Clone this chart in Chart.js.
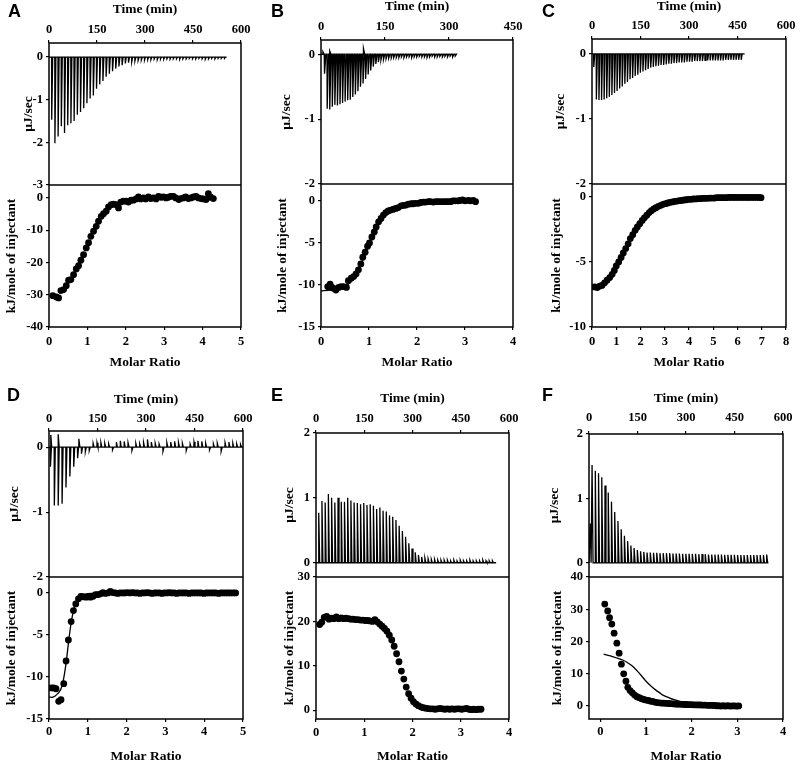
<!DOCTYPE html>
<html>
<head>
<meta charset="utf-8">
<script src="https://cdn.jsdelivr.net/npm/chart.js@4/dist/chart.umd.min.js"></script>
<style>
  body { margin: 0; background: #fff; }
  #fig { position: relative; width: 800px; height: 765px; overflow: hidden; background: #fff; }
  #fig canvas { position: absolute; }
  .tag { position: absolute; font: bold 18px "Liberation Sans", Arial, sans-serif; line-height: 18px; color: #000; }
</style>
</head>
<body>
<div id="fig"></div>
<script>
// ---- raw thermograms: injection time (min) and peak height (µJ/sec) ----
var A_TIME = [8,18,28,38,48,58,68,78,88,98,108,118,128,138,148,158,168,178,188,198,208,218,228,238,248,258,268,278,288,298,308,318,328,338,348,358,368,378,388,398,408,418,428,438,448,458,468,478,488,498,508,518,528,538,548];
var A_PEAK = [-1.47,-2.02,-1.86,-1.62,-1.78,-1.6,-1.55,-1.5,-1.35,-1.29,-1.2,-1.08,-0.97,-0.9,-0.74,-0.64,-0.56,-0.46,-0.39,-0.33,-0.27,-0.22,-0.19,-0.15,-0.13,-0.11,-0.09,-0.08,-0.07,-0.07,-0.06,-0.06,-0.05,-0.06,-0.05,-0.05,-0.04,-0.05,-0.04,-0.04,-0.05,-0.04,-0.04,-0.03,-0.04,-0.04,-0.03,-0.04,-0.05,-0.04,-0.03,-0.04,-0.03,-0.03,-0.03];

var B_TIME = [8,14,20,26,32,38,44,50,56,62,68,74,80,86,92,98,104,110,116,122,128,134,140,146,152,158,164,170,176,182,188,194,200,206,212,218,224,230,236,242,248,254,260,266,272,278,284,290,296,302,308,314];
var B_PEAK = [-0.3,-0.84,-0.85,-0.81,-0.78,-0.79,-0.77,-0.75,-0.73,-0.71,-0.7,-0.66,-0.62,-0.57,-0.5,-0.45,-0.38,-0.31,-0.25,-0.19,-0.15,-0.12,-0.09,-0.08,-0.07,-0.06,-0.06,-0.05,-0.05,-0.05,-0.04,-0.05,-0.04,-0.04,-0.05,-0.04,-0.04,-0.03,-0.04,-0.04,-0.05,-0.04,-0.03,-0.04,-0.04,-0.03,-0.04,-0.03,-0.04,-0.03,-0.04,-0.03];
var B_UP_TIME = [4,20,99];
var B_UP_PEAK = [0.04,0.05,0.09];

var C_TIME = [5,13,21,29,37,45,53,61,69,77,85,93,101,109,117,125,133,141,149,157,165,173,181,189,197,205,213,221,229,237,245,253,261,269,277,285,293,301,309,317,325,333,341,349,357,365,373,381,389,397,405,413,421,429,437,445,453,461];
var C_PEAK = [-0.2,-0.7,-0.71,-0.71,-0.7,-0.68,-0.66,-0.63,-0.6,-0.57,-0.53,-0.5,-0.46,-0.43,-0.39,-0.37,-0.34,-0.32,-0.29,-0.27,-0.25,-0.23,-0.21,-0.2,-0.19,-0.18,-0.17,-0.17,-0.16,-0.15,-0.15,-0.14,-0.14,-0.13,-0.13,-0.13,-0.12,-0.12,-0.12,-0.11,-0.11,-0.11,-0.11,-0.1,-0.1,-0.1,-0.1,-0.1,-0.1,-0.1,-0.1,-0.09,-0.09,-0.09,-0.09,-0.09,-0.09,-0.09];

var D_TIME = [4,16,28,40,52,64,76,88,100,112,124,136,148,160,172,184,196,208,220,232,244,256,268,280,292,304,316,328,340,352,364,376,388,400,412,424,436,448,460,472,484,496,508,520,532,544,556,568,580,592];
var D_PEAK = [-0.3,-0.9,-0.9,-0.87,-0.62,-0.45,-0.3,-0.17,-0.1,-0.07,-0.05,0.06,0.07,0.07,0.06,0.05,-0.04,0.08,0.1,0.09,0.07,-0.05,0.06,0.05,0.07,0.12,0.08,0.06,0.05,-0.06,0.07,0.08,0.09,0.07,0.06,-0.05,0.05,0.08,0.1,0.09,0.06,-0.04,0.05,0.06,-0.06,0.07,0.08,0.06,0.05,0.04];
var D_UP_TIME = [5,28,92];
var D_UP_PEAK = [0.19,0.2,0.13];

var E_TIME = [8,18,28,38,48,58,68,78,88,98,108,118,128,138,148,158,168,178,188,198,208,218,228,238,248,258,268,278,288,298,308,318,328,338,348,358,368,378,388,398,408,418,428,438,448,458,468,478,488,498,508,518,528,538,548];
var E_PEAK = [0.77,0.95,0.93,1.06,1.0,0.93,1.0,0.94,0.94,1.0,0.96,0.93,0.92,0.9,0.92,0.89,0.9,0.88,0.83,0.85,0.8,0.79,0.73,0.71,0.66,0.57,0.49,0.4,0.3,0.22,0.16,0.12,0.09,0.07,0.06,0.05,0.05,0.04,0.04,0.04,0.04,0.03,0.04,0.03,0.04,0.03,0.03,0.04,0.03,0.03,0.03,0.04,0.03,0.03,0.03];

var F_TIME = [3,9,19,29,39,49,59,69,79,89,99,109,119,129,139,149,159,169,179,189,199,209,219,229,239,249,259,269,279,289,299,309,319,329,339,349,359,369,379,389,399,409,419,429,439,449,459,469,479,489,499,509,519,529,539,549];
var F_PEAK = [0.61,1.52,1.43,1.39,1.33,1.2,1.09,0.95,0.79,0.65,0.52,0.42,0.34,0.27,0.23,0.2,0.18,0.17,0.16,0.16,0.155,0.155,0.15,0.15,0.15,0.15,0.145,0.145,0.145,0.14,0.14,0.14,0.14,0.14,0.135,0.135,0.135,0.13,0.13,0.13,0.13,0.13,0.125,0.125,0.125,0.125,0.12,0.12,0.12,0.12,0.12,0.12,0.12,0.12,0.12,0.13];

// ---- integrated heats: molar ratio and kJ/mole of injectant ----
var A_MR = [0.10,0.19,0.25,0.31,0.38,0.45,0.51,0.57,0.64,0.71,0.77,0.83,0.90,0.97,1.03,1.09,1.16,1.23,1.29,1.36,1.42,1.49,1.55,1.62,1.68,1.75,1.81,1.87,1.94,2.01,2.07,2.14,2.20,2.27,2.33,2.39,2.46,2.52,2.59,2.65,2.72,2.79,2.85,2.92,2.98,3.05,3.11,3.17,3.24,3.30,3.38,3.43,3.50,3.56,3.63,3.70,3.76,3.83,3.89,3.96,4.02,4.09,4.15,4.21,4.28];
var A_HEAT = [-30.3,-30.7,-31.0,-28.7,-28.4,-27.2,-25.5,-25.3,-23.8,-22.0,-21.0,-19.3,-17.6,-15.5,-13.9,-11.9,-10.3,-8.8,-7.2,-5.7,-4.9,-4.1,-2.8,-2.1,-1.9,-2.1,-3.1,-1.3,-1.0,-1.0,-1.3,-0.7,-0.7,-0.3,0.3,-0.3,0.0,-0.3,0.3,-0.2,0.0,-0.3,0.5,0.2,0.3,0.0,0.2,0.5,0.5,0.0,-0.5,-0.2,0.0,0.3,-0.2,0.0,0.3,0.5,0.0,-0.2,-0.3,-0.5,1.3,0.2,-0.2];

var B_MR = [0.14,0.19,0.23,0.26,0.31,0.37,0.42,0.47,0.53,0.57,0.63,0.68,0.73,0.78,0.83,0.87,0.92,0.97,1.01,1.06,1.11,1.15,1.20,1.25,1.30,1.35,1.40,1.45,1.51,1.56,1.61,1.67,1.72,1.77,1.82,1.88,1.92,1.97,2.03,2.08,2.13,2.18,2.24,2.28,2.34,2.39,2.44,2.49,2.55,2.60,2.65,2.70,2.75,2.80,2.86,2.90,2.95,3.00,3.07,3.11,3.17,3.22];
var B_HEAT = [-10.2,-9.9,-10.3,-10.4,-10.6,-10.3,-10.2,-10.2,-10.3,-9.5,-9.2,-9.0,-8.7,-8.2,-7.5,-6.7,-6.1,-5.4,-5.0,-4.3,-3.7,-3.1,-2.5,-2.1,-1.7,-1.4,-1.2,-1.1,-1.0,-0.9,-0.8,-0.6,-0.55,-0.5,-0.4,-0.35,-0.35,-0.3,-0.3,-0.2,-0.15,-0.15,-0.1,-0.1,-0.15,-0.1,-0.1,-0.1,-0.1,-0.1,-0.1,-0.1,0,0,0,0.05,0.1,0,0.05,0,0.05,-0.1];
var B_FIT_MR = [0,0.2,0.4,0.55,0.7,0.85,1.0,1.15,1.3,1.45,1.6,1.8,2.0,2.4,2.8,3.2];
var B_FIT = [-10.7,-10.6,-10.4,-10.0,-9.0,-7.3,-5.2,-3.2,-1.8,-1.1,-0.75,-0.45,-0.3,-0.15,-0.05,0];

var C_MR = [0.11,0.22,0.32,0.41,0.52,0.62,0.73,0.83,0.92,1.00,1.10,1.20,1.29,1.39,1.49,1.58,1.68,1.78,1.87,1.97,2.07,2.16,2.26,2.36,2.45,2.55,2.64,2.74,2.84,2.93,3.03,3.13,3.22,3.32,3.42,3.51,3.61,3.70,3.80,3.90,3.99,4.09,4.18,4.28,4.38,4.47,4.57,4.66,4.76,4.86,4.95,5.05,5.14,5.24,5.34,5.43,5.53,5.63,5.72,5.82,5.91,6.01,6.11,6.20,6.30,6.40,6.49,6.59,6.68,6.78,6.88,6.97];
var C_HEAT = [-6.92,-6.97,-6.85,-6.8,-6.6,-6.4,-6.2,-5.95,-5.65,-5.3,-5.0,-4.65,-4.3,-3.97,-3.6,-3.2,-2.9,-2.56,-2.3,-2.05,-1.8,-1.6,-1.4,-1.2,-1.05,-0.92,-0.82,-0.72,-0.64,-0.56,-0.51,-0.46,-0.41,-0.38,-0.33,-0.31,-0.28,-0.26,-0.23,-0.21,-0.18,-0.18,-0.15,-0.15,-0.13,-0.13,-0.1,-0.1,-0.1,-0.08,-0.08,-0.08,-0.05,-0.05,-0.05,-0.05,-0.05,-0.03,-0.03,-0.03,-0.03,-0.03,-0.03,-0.03,-0.03,-0.03,-0.03,-0.03,-0.03,-0.03,-0.03,-0.05];

var D_MR = [0.06,0.12,0.18,0.25,0.31,0.38,0.44,0.50,0.57,0.63,0.69,0.76,0.82,0.88,0.95,1.01,1.07,1.14,1.20,1.26,1.33,1.39,1.45,1.52,1.58,1.64,1.71,1.77,1.83,1.90,1.96,2.02,2.09,2.15,2.21,2.28,2.34,2.40,2.47,2.53,2.59,2.66,2.72,2.78,2.85,2.91,2.97,3.04,3.10,3.16,3.23,3.29,3.35,3.42,3.48,3.54,3.61,3.67,3.73,3.80,3.86,3.92,3.99,4.05,4.11,4.18,4.24,4.30,4.37,4.43,4.49,4.56,4.62,4.68,4.75,4.81];
var D_HEAT = [-11.3,-11.3,-11.4,-12.9,-12.7,-10.8,-8.1,-5.6,-3.4,-2.1,-1.3,-0.7,-0.4,-0.45,-0.5,-0.45,-0.5,-0.4,-0.2,-0.2,-0.1,0.05,-0.05,0.0,0.2,0.05,0.0,-0.05,0.0,0.0,0.0,0.05,0.0,0.05,0.0,0.0,-0.05,0.0,0.0,0.05,0.0,-0.05,0.0,0.0,0.0,-0.05,0.0,0.0,0.05,0.0,0.0,-0.05,0.0,0.0,0.0,0.0,-0.05,0.0,0.0,0.0,0.0,0.0,-0.05,0.0,0.0,0.0,0.0,0.0,-0.05,0.0,0.0,0.0,0.0,0.0,0.0,0.0];
var D_FIT_MR = [0,0.1,0.2,0.3,0.35,0.4,0.45,0.5,0.55,0.6,0.65,0.7,0.8,0.9,1.0,1.2,2,3,4,4.8];
var D_FIT = [-12.4,-12.4,-12.1,-11.5,-10.8,-9.6,-8.0,-6.0,-4.2,-2.8,-1.8,-1.1,-0.45,-0.2,-0.08,-0.02,0,0,0,0];

var E_MR = [0.075,0.12,0.17,0.22,0.27,0.32,0.37,0.42,0.47,0.52,0.57,0.62,0.67,0.72,0.77,0.82,0.87,0.92,0.97,1.02,1.07,1.12,1.17,1.22,1.27,1.32,1.37,1.42,1.47,1.52,1.57,1.62,1.67,1.72,1.77,1.82,1.87,1.92,1.97,2.02,2.07,2.12,2.17,2.22,2.27,2.32,2.37,2.42,2.47,2.52,2.57,2.62,2.67,2.72,2.77,2.82,2.87,2.92,2.97,3.02,3.07,3.12,3.17,3.22,3.27,3.32,3.37,3.42];
var E_HEAT = [19.3,19.8,20.9,21.1,20.5,20.7,20.6,21.0,20.6,20.8,20.6,20.7,20.6,20.5,20.5,20.4,20.4,20.3,20.3,20.2,20.2,20.1,20.0,20.4,19.9,19.4,18.9,18.4,17.8,16.9,15.8,14.4,12.7,10.9,8.8,7.0,5.2,3.7,2.7,1.9,1.4,1.0,0.75,0.55,0.45,0.35,0.3,0.3,0.2,0.3,0.4,0.3,0.2,0.3,0.2,0.3,0.2,0.3,0.3,0.2,0.3,0.4,0.2,0.1,0.2,0.1,0.2,0.2];

var F_MR = [0.095,0.16,0.20,0.25,0.30,0.36,0.41,0.46,0.51,0.56,0.60,0.65,0.70,0.75,0.80,0.85,0.90,0.95,1.00,1.05,1.09,1.14,1.19,1.24,1.29,1.34,1.39,1.44,1.49,1.54,1.59,1.64,1.69,1.74,1.79,1.84,1.89,1.94,1.99,2.04,2.09,2.14,2.19,2.24,2.29,2.34,2.39,2.44,2.49,2.54,2.59,2.64,2.69,2.74,2.79,2.84,2.89,2.94,2.99,3.03];
var F_HEAT = [31.6,29.5,27.4,25.4,22.6,19.5,16.4,13.0,10.0,7.7,5.8,4.8,4.1,3.4,2.9,2.6,2.3,2.05,1.85,1.75,1.55,1.45,1.25,1.1,1.0,0.95,0.9,0.85,0.8,0.75,0.7,0.65,0.6,0.6,0.55,0.5,0.5,0.45,0.45,0.4,0.4,0.35,0.35,0.3,0.3,0.25,0.25,0.2,0.2,0.1,0.1,0.0,0.1,0.0,0.1,0.0,0.05,0.05,0.0,0.05];
var F_FIT_MR = [0.07,0.2,0.36,0.5,0.58,0.7,0.8,0.9,1.0,1.1,1.2,1.3,1.38,1.5,1.6,1.7,1.78,2.0,2.4,3.0];
var F_FIT = [16.1,15.6,14.9,14.2,13.6,12.4,11.0,9.4,7.7,6.3,5.1,4.1,3.3,2.6,2.05,1.65,1.35,0.9,0.4,0.1];

// ---- tick labels ----
var TIME_TICKS = [0,150,300,450,600];
var TIME_TICKS_B = [0,150,300,450];
var RATE_TICKS_A = [0,-1,-2,-3];
var RATE_TICKS_NEG = [0,-1,-2];
var RATE_TICKS_POS = [0,1,2];
var RATIO_TICKS_4 = [0,1,2,3,4];
var RATIO_TICKS_5 = [0,1,2,3,4,5];
var RATIO_TICKS_8 = [0,1,2,3,4,5,6,7,8];
var HEAT_TICKS_A = [0,-10,-20,-30,-40];
var HEAT_TICKS_15 = [0,-5,-10,-15];
var HEAT_TICKS_10 = [0,-5,-10];
var HEAT_TICKS_E = [0,10,20,30];
var HEAT_TICKS_F = [0,10,20,30,40];

var SERIF = '"Liberation Serif", "Times New Roman", serif';
var TICK_FONT = { family: SERIF, size: 12.5, weight: 'bold' };
var TITLE_FONT = { family: SERIF, size: 13.5, weight: 'bold' };

// area: [left, right, top, divider, bottom] in page pixels
var PANELS = [
  { tag: 'A', tagAt: [8, 2], area: [49, 241, 43, 185, 327], row: 0,
    time: [0, 600], rate: [-3, 0.33], ratio: [0, 5], heat: [-40, 4],
    pos: { time: 10, topLbl: 30, rateX: 29, heatX: 12, botLbl: 342, ratio: 363 },
    trace: [A_TIME, A_PEAK, [], [], 555], pts: [A_MR, A_HEAT], fit: null,
    ticks: [TIME_TICKS, RATE_TICKS_A, RATIO_TICKS_5, HEAT_TICKS_A] },
  { tag: 'B', tagAt: [271, 2], area: [321, 513, 40, 184, 327], row: 0,
    time: [0, 450], rate: [-2, 0.22], ratio: [0, 4], heat: [-15, 2],
    pos: { time: 7, topLbl: 27, rateX: 287, heatX: 283, botLbl: 342, ratio: 363 },
    trace: [B_TIME, B_PEAK, B_UP_TIME, B_UP_PEAK, 316], pts: [B_MR, B_HEAT], fit: [B_FIT_MR, B_FIT],
    ticks: [TIME_TICKS_B, RATE_TICKS_NEG, RATIO_TICKS_4, HEAT_TICKS_15] },
  { tag: 'C', tagAt: [542, 2], area: [592, 786, 39, 184, 327], row: 0,
    time: [0, 600], rate: [-2, 0.23], ratio: [0, 8], heat: [-10, 1],
    pos: { time: 7, topLbl: 26, rateX: 561, heatX: 557, botLbl: 342, ratio: 363 },
    trace: [C_TIME, C_PEAK, [], [], 472], pts: [C_MR, C_HEAT], fit: null,
    ticks: [TIME_TICKS, RATE_TICKS_NEG, RATIO_TICKS_8, HEAT_TICKS_10] },
  { tag: 'D', tagAt: [7, 386], area: [49, 243, 431, 577, 719], row: 380,
    time: [0, 600], rate: [-2, 0.25], ratio: [0, 5], heat: [-15, 1.9],
    pos: { time: 400, topLbl: 419, rateX: 15, heatX: 12, botLbl: 732, ratio: 757 },
    trace: [D_TIME, D_PEAK, D_UP_TIME, D_UP_PEAK, 600], pts: [D_MR, D_HEAT], fit: [D_FIT_MR, D_FIT],
    ticks: [TIME_TICKS, RATE_TICKS_NEG, RATIO_TICKS_5, HEAT_TICKS_15] },
  { tag: 'E', tagAt: [271, 386], area: [316, 509, 433, 577, 719], row: 380,
    time: [0, 600], rate: [-0.22, 2], ratio: [0, 4], heat: [-2, 30],
    pos: { time: 399, topLbl: 419, rateX: 290, heatX: 290, botLbl: 733, ratio: 757 },
    trace: [E_TIME, E_PEAK, [], [], 560], pts: [E_MR, E_HEAT], fit: null,
    ticks: [TIME_TICKS, RATE_TICKS_POS, RATIO_TICKS_4, HEAT_TICKS_E] },
  { tag: 'F', tagAt: [542, 386], area: [589, 783, 434, 577, 719], row: 380,
    time: [0, 600], rate: [-0.22, 2], ratio: [-0.25, 4], heat: [-4, 40],
    pos: { time: 399, topLbl: 418, rateX: 555, heatX: 558, botLbl: 732, ratio: 757 },
    trace: [F_TIME, F_PEAK, [], [], 555], pts: [F_MR, F_HEAT], fit: [F_FIT_MR, F_FIT],
    ticks: [TIME_TICKS, RATE_TICKS_POS, RATIO_TICKS_4, HEAT_TICKS_F] }
];

var YW = 49;   // y-axis box width
var XB = 48;   // bottom x-axis box height
var PR = 20;   // right padding
var TL = 3;    // tick length

function thermogram(times, peaks, upT, upP, end) {
  var ev = times.map(function (t, i) { return [t, peaks[i]]; })
    .concat(upT.map(function (t, i) { return [t, upP[i]]; }));
  ev.sort(function (a, b) { return a[0] - b[0]; });
  var pts = [{ x: 0, y: 0 }];
  ev.forEach(function (e) {
    pts.push({ x: e[0], y: 0 }, { x: e[0] + 0.5, y: e[1] }, { x: e[0] + 3.5, y: 0 });
  });
  pts.push({ x: end, y: 0 });
  return pts;
}

function pairs(xs, ys) {
  return xs.map(function (x, i) { return { x: x, y: ys[i] }; });
}

function fixedTicks(vals) {
  return function (s) { s.ticks = vals.map(function (v) { return { value: v }; }); };
}

// box frame plus the line between the two stacked plots
var framePlugin = {
  id: 'frame',
  afterDraw: function (chart) {
    var a = chart.chartArea, ctx = chart.ctx;
    ctx.save();
    ctx.strokeStyle = '#000';
    ctx.lineWidth = 1.5;
    ctx.strokeRect(a.left, a.top, a.right - a.left, a.bottom - a.top);
    var mid = chart.scales.yt.bottom;
    ctx.beginPath();
    ctx.moveTo(a.left, mid);
    ctx.lineTo(a.right, mid);
    ctx.stroke();
    ctx.restore();
  }
};

var fig = document.getElementById('fig');

PANELS.forEach(function (p) {
  var aL = p.area[0], aR = p.area[1], aT = p.area[2], aM = p.area[3], aB = p.area[4];
  var cl = aL - YW, ct = p.row;
  var cw = aR - cl + PR, ch = aB + XB - ct;

  var tag = document.createElement('div');
  tag.className = 'tag';
  tag.style.left = p.tagAt[0] + 'px';
  tag.style.top = p.tagAt[1] + 'px';
  tag.textContent = p.tag;

  var cv = document.createElement('canvas');
  cv.width = cw; cv.height = ch;
  cv.style.left = cl + 'px'; cv.style.top = ct + 'px';
  cv.style.width = cw + 'px'; cv.style.height = ch + 'px';
  fig.appendChild(cv);
  fig.appendChild(tag);

  var grid = { drawOnChartArea: false, drawTicks: true, tickLength: TL, color: '#000', lineWidth: 1.2 };
  var tickBase = { font: TICK_FONT, color: '#000', maxRotation: 0, autoSkip: false,
    callback: function (v) { return String(v); } };

  var datasets = [
    { type: 'line', data: thermogram.apply(null, p.trace), xAxisID: 'xt', yAxisID: 'yt',
      borderColor: '#000', borderWidth: 1.3, pointRadius: 0, tension: 0, showLine: true }
  ];
  if (p.fit) {
    datasets.push({ type: 'line', data: pairs(p.fit[0], p.fit[1]), xAxisID: 'xb', yAxisID: 'yb',
      borderColor: '#000', borderWidth: 1.3, pointRadius: 0, tension: 0.3, showLine: true });
  }
  datasets.push({ type: 'scatter', data: pairs(p.pts[0], p.pts[1]), xAxisID: 'xb', yAxisID: 'yb',
    pointRadius: 3.4, backgroundColor: '#000', borderWidth: 0, showLine: false });

  new Chart(cv.getContext('2d'), {
    type: 'scatter',
    data: { datasets: datasets },
    options: {
      responsive: false,
      animation: false,
      events: [],
      layout: { padding: { left: 0, top: 0, right: PR, bottom: 0 } },
      plugins: { legend: { display: false }, tooltip: { enabled: false } },
      scales: {
        xt: {
          type: 'linear', position: 'top', min: p.time[0], max: p.time[1],
          afterBuildTicks: fixedTicks(p.ticks[0]),
          afterFit: function (s) { s.height = aT - ct; },
          grid: grid, border: { display: false },
          ticks: Object.assign({}, tickBase, { padding: aT - p.pos.topLbl - 7.5 - TL }),
          title: { display: true, text: 'Time (min)', font: TITLE_FONT, color: '#000',
            padding: { top: p.pos.time - ct - 8.1, bottom: 0 } }
        },
        xb: {
          type: 'linear', position: 'bottom', min: p.ratio[0], max: p.ratio[1],
          afterBuildTicks: fixedTicks(p.ticks[2]),
          afterFit: function (s) { s.height = XB; },
          grid: grid, border: { display: false },
          ticks: Object.assign({}, tickBase, { padding: p.pos.botLbl - aB - 7.5 - TL }),
          title: { display: true, text: 'Molar Ratio', font: TITLE_FONT, color: '#000',
            padding: { top: 0, bottom: aB + XB - p.pos.ratio - 8.1 } }
        },
        yb: {
          type: 'linear', position: 'left', stack: 'itc', stackWeight: aB - aM,
          min: p.heat[0], max: p.heat[1],
          afterBuildTicks: fixedTicks(p.ticks[3]),
          afterFit: function (s) { s.width = YW; },
          grid: grid, border: { display: false },
          ticks: Object.assign({}, tickBase, { padding: 3 }),
          title: { display: true, text: 'kJ/mole of injectant', font: TITLE_FONT, color: '#000',
            padding: { top: p.pos.heatX - cl - 8.1, bottom: 0 } }
        },
        yt: {
          type: 'linear', position: 'left', stack: 'itc', stackWeight: aM - aT,
          min: p.rate[0], max: p.rate[1],
          afterBuildTicks: fixedTicks(p.ticks[1]),
          afterFit: function (s) { s.width = YW; },
          grid: grid, border: { display: false },
          ticks: Object.assign({}, tickBase, { padding: 3 }),
          title: { display: true, text: 'µJ/sec', font: TITLE_FONT, color: '#000',
            padding: { top: p.pos.rateX - cl - 8.1, bottom: 0 } }
        }
      }
    },
    plugins: [framePlugin]
  });
});
</script>
</body>
</html>
